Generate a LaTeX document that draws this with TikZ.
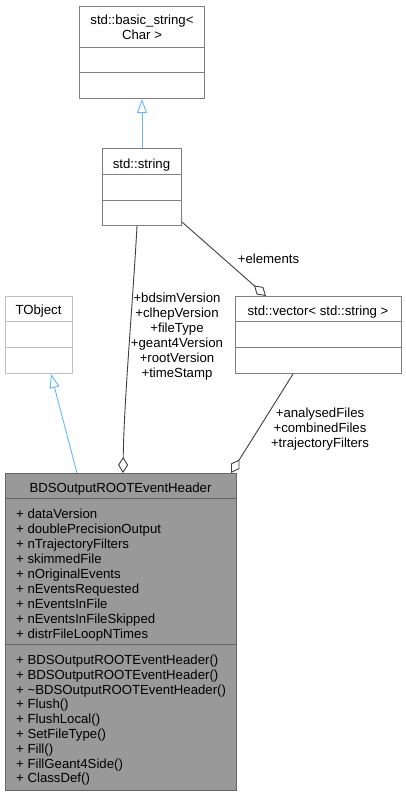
\documentclass[tikz,border=0pt]{standalone}
\usepackage{fontspec}
\setmainfont{Liberation Sans}
\usetikzlibrary{arrows.meta,calc}
\definecolor{boxline}{HTML}{808080}
\definecolor{lightline}{HTML}{C0C0C0}
\definecolor{mainfill}{HTML}{999999}
\definecolor{mainline}{HTML}{666666}
\definecolor{edgegrey}{HTML}{404040}
\definecolor{inhblue}{HTML}{63B8FF}
\tikzset{
  x=1pt, y=-1pt,
  umlbox/.style={draw=boxline, line width=1pt, fill=white, rectangle, inner sep=0pt, anchor=north west},
  txt/.style={inner sep=0pt, font=\fontsize{13.2}{15}\selectfont, text=black},
  inherit/.style={draw=inhblue, line width=0.9pt, -{Triangle[open, length=14pt, width=10pt, fill=white]}},
  compose/.style={draw=edgegrey, line width=0.9pt, -{Diamond[open, length=16pt, width=10pt, fill=white]}},
}
\begin{document}
\begin{tikzpicture}
\useasboundingbox (0,0) rectangle (406,796);
\fill[white] (0,0) rectangle (406,796);
% boxes
\node[umlbox, minimum width=125pt, minimum height=92pt] (bs) at (79,6) {};
\node[umlbox, minimum width=79pt, minimum height=77pt] (str) at (102,148) {};
\node[umlbox, draw=lightline, minimum width=67pt, minimum height=77pt] (tobj) at (5,296) {};
\node[umlbox, minimum width=166pt, minimum height=77pt] (vec) at (235,296) {};
\node[umlbox, draw=mainline, fill=mainfill, minimum width=231pt, minimum height=317pt] (main) at (5,473) {};
% separators
\foreach \b/\a/\c/\col in {bs/41/66/boxline, str/26/52/boxline, tobj/25/51/lightline, vec/25/51/boxline, main/25/171/mainline}{
  \draw[\col, line width=1pt] ($(\b.north west)+(0,\a)$) -- ($(\b.north east)+(0,\a)$);
  \draw[\col, line width=1pt] ($(\b.north west)+(0,\c)$) -- ($(\b.north east)+(0,\c)$);
}
% titles
\node[txt, anchor=base] (bst1) at (142,24.5) {std::basic\_string<};
\node[txt, anchor=base] (bst2) at (142,39) {Char >};
\node[txt, anchor=base] (strt) at (141.5,168) {std::string};
\node[txt, anchor=base] (tobjt) at (38.5,314.5) {TObject};
\node[txt, anchor=base] (vect) at (318,315) {std::vector< std::string >};
\node[txt, anchor=base] (maint) at (120.5,492) {BDSOutputROOTEventHeader};
% attributes
\foreach \t [count=\i] in {dataVersion, doublePrecisionOutput, nTrajectoryFilters, skimmedFile, nOriginalEvents, nEventsRequested, nEventsInFile, nEventsInFileSkipped, distrFileLoopNTimes}{
  \node[txt, anchor=base west] (attr\i) at (16,{518+15*(\i-1)}) {+ \t};
}
\foreach \t [count=\i] in {BDSOutputROOTEventHeader(), BDSOutputROOTEventHeader(), \textasciitilde BDSOutputROOTEventHeader(), Flush(), FlushLocal(), SetFileType(), Fill(), FillGeant4Side(), ClassDef()}{
  \node[txt, anchor=base west] (meth\i) at (16,{664.5+14.8*(\i-1)}) {+ \t};
}
% connectors
\draw[inherit] ($(str.north west)+(40,0)$) -- ($(bs.south west)+(63,0)$);
\draw[inherit] ($(main.north west)+(72,0)$) -- ($(tobj.south west)+(46,0)$);
\draw[compose] ($(str.south west)+(35,0)$) .. controls (133,300) and (124,400) .. ($(main.north west)+(118,0)$);
\draw[compose] ($(str.south east)+(0,-4)$) -- ($(vec.north west)+(31,0)$);
\draw[compose] ($(vec.south west)+(58,0)$) -- ($(main.north west)+(226,0)$);
% labels
\node[txt, anchor=base] (lel) at (268.5,263.5) {+elements};
\foreach \t [count=\i] in {+bdsimVersion, +clhepVersion, +fileType, +geant4Version, +rootVersion, +timeStamp}{
  \node[txt, anchor=base] (ls\i) at (177,{302.3+15*(\i-1)}) {\t};
}
\foreach \t [count=\i] in {+analysedFiles, +combinedFiles, +trajectoryFilters}{
  \node[txt, anchor=base] (lv\i) at (320,{417+15*(\i-1)}) {\t};
}
\end{tikzpicture}
\end{document}
